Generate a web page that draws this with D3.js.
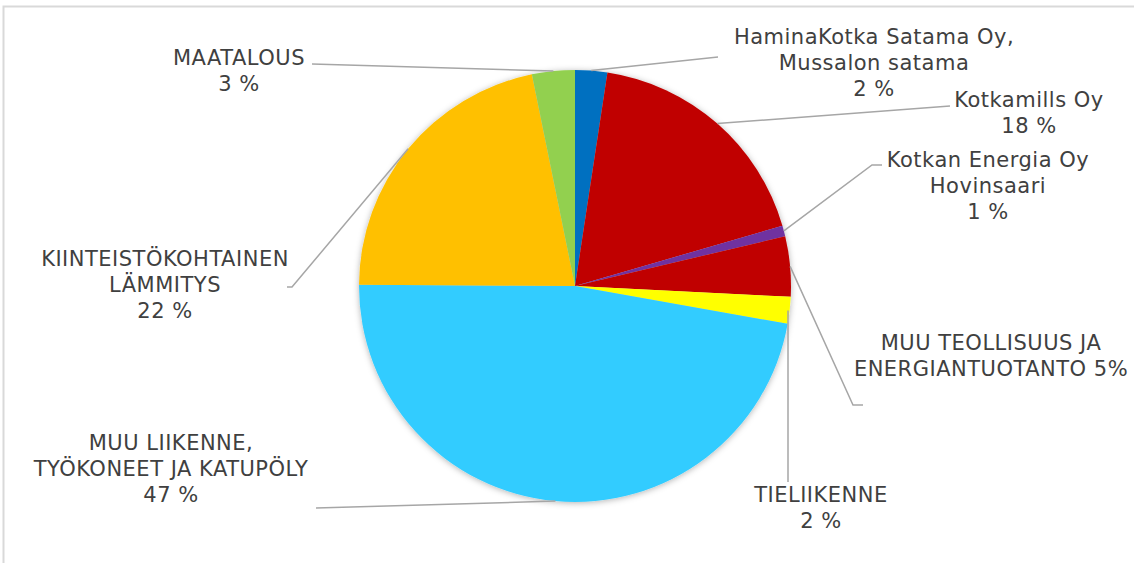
<!DOCTYPE html>
<html>
<head>
<meta charset="utf-8">
<script src="https://cdn.jsdelivr.net/npm/d3@7"></script>
<style>
  html, body { margin: 0; padding: 0; background: #fff; }
  svg { display: block; }
  text { font-family: "DejaVu Sans", "Noto Sans", sans-serif; fill: #404040; }
</style>
</head>
<body>
<svg id="chart" width="1134" height="563"></svg>
<script>
// Emission sources (share of total, %), clockwise from 12 o'clock
const categories = [
  "HaminaKotka Satama Oy, Mussalon satama",
  "Kotkamills Oy",
  "Kotkan Energia Oy Hovinsaari",
  "MUU TEOLLISUUS JA ENERGIANTUOTANTO",
  "TIELIIKENNE",
  "MUU LIIKENNE, TYÖKONEET JA KATUPÖLY",
  "KIINTEISTÖKOHTAINEN LÄMMITYS",
  "MAATALOUS"
];
const shares = [2.4, 18.1, 0.8, 4.5, 2.0, 47.3, 21.7, 3.2];
const colors = ["#0070C0", "#C00000", "#7030A0", "#C00000", "#FFFF00", "#33CCFF", "#FFC000", "#92D050"];

// Label text lines (the last line of each is the rounded share)
const pct = v => Math.round(v) + " %";
const labelLines = [
  ["HaminaKotka Satama Oy,", "Mussalon satama", pct(shares[0])],
  ["Kotkamills Oy", pct(shares[1])],
  ["Kotkan Energia Oy", "Hovinsaari", pct(shares[2])],
  ["MUU TEOLLISUUS JA", "ENERGIANTUOTANTO " + Math.round(shares[3]) + "%"],
  ["TIELIIKENNE", pct(shares[4])],
  ["MUU LIIKENNE,", "TYÖKONEET JA KATUPÖLY", pct(shares[5])],
  ["KIINTEISTÖKOHTAINEN", "LÄMMITYS", pct(shares[6])],
  ["MAATALOUS", pct(shares[7])]
];

// Label placement: text centre x, first line y, and leader-line bend points
const labelLayout = [
  { x: 874, y: 37,  leader: [[718, 57]] },
  { x: 1029, y: 100, leader: [[950, 106]] },
  { x: 988, y: 160, leader: [[872, 165], [882, 165]] },
  { x: 991, y: 343, leader: [[853, 405], [863, 405]] },
  { x: 821, y: 495, leader: [[788, 482]], vertical: true },
  { x: 171, y: 443, leader: [[316, 508]] },
  { x: 165, y: 259, leader: [[292, 287], [287, 287]] },
  { x: 239, y: 58,  leader: [[312, 64]] }
];

const svg = d3.select("#chart");
const cx = 575, cy = 286, r = 216;
const lineH = 26;

// Outer frame of the chart area
svg.append("path")
  .attr("d", "M3.5,563 L3.5,6.5 L1134,6.5")
  .attr("fill", "none")
  .attr("stroke", "#d9d9d9")
  .attr("stroke-width", 2);

const defs = svg.append("defs");
const shadow = defs.append("filter").attr("id", "pieShadow")
  .attr("x", "-10%").attr("y", "-10%").attr("width", "120%").attr("height", "120%");
shadow.append("feDropShadow")
  .attr("dx", 0).attr("dy", 1).attr("stdDeviation", 3)
  .attr("flood-color", "#000").attr("flood-opacity", 0.3);

const pie = d3.pie().sort(null).value(d => d);
const arcs = pie(shares);
const arc = d3.arc().innerRadius(0).outerRadius(r);

const g = svg.append("g").attr("transform", `translate(${cx},${cy})`);
g.append("g").attr("filter", "url(#pieShadow)")
  .selectAll("path")
  .data(arcs)
  .join("path")
  .attr("d", arc)
  .attr("fill", (d, i) => colors[i]);

// Leader lines start at the middle of each slice's outer edge
const edgeArc = d3.arc().innerRadius(r).outerRadius(r);
const line = d3.line();
arcs.forEach((a, i) => {
  const [ex, ey] = edgeArc.centroid(a);
  const lay = labelLayout[i];
  let start = [cx + ex, cy + ey];
  if (lay.vertical) start = [lay.leader[0][0], cy + ey];
  svg.append("path")
    .attr("d", line([start, ...lay.leader]))
    .attr("fill", "none")
    .attr("stroke", "#a6a6a6")
    .attr("stroke-width", 1.5);
});

// Labels
labelLines.forEach((lines, i) => {
  const lay = labelLayout[i];
  const t = svg.append("text")
    .attr("text-anchor", "middle")
    .attr("font-size", 21)
    .attr("letter-spacing", 0.5);
  lines.forEach((s, j) => {
    t.append("tspan")
      .attr("x", lay.x)
      .attr("y", lay.y + j * lineH)
      .attr("dy", "0.35em")
      .text(s);
  });
});
</script>
</body>
</html>
